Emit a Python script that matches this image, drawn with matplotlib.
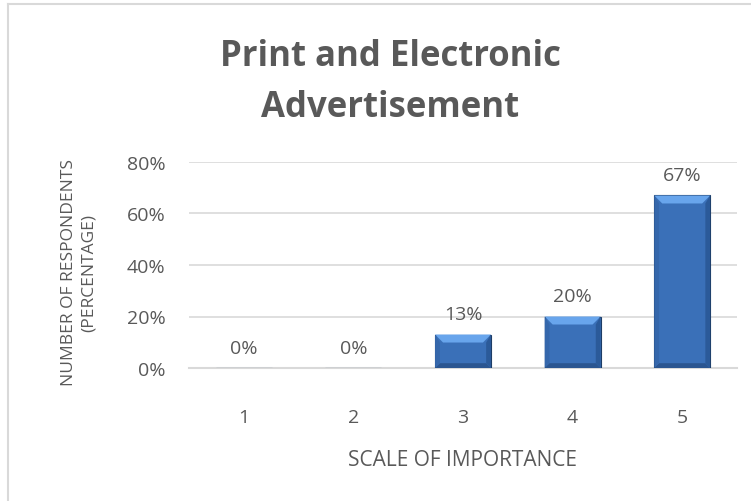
import matplotlib
matplotlib.use("Agg")
import matplotlib.pyplot as plt
from matplotlib.patches import Polygon
from matplotlib.lines import Line2D
from matplotlib.ticker import PercentFormatter

categories = ["1", "2", "3", "4", "5"]
values = [0.0, 0.0, 0.13, 0.20, 0.67]
labels = ["0%", "0%", "13%", "20%", "67%"]
yticks = [0.0, 0.2, 0.4, 0.6, 0.8]

plt.rcParams['font.family'] = ['Open Sans', 'DejaVu Sans']
GRAY = '#595959'
W, H = 751, 502

fig = plt.figure(figsize=(7.51, 5.02), dpi=100)
ax = fig.add_axes([189 / W, 1 - 369 / H, (737 - 189) / W, (369 - 163) / H])

x = list(range(len(categories)))
bars = ax.bar(x, values, width=0.51, color='#3A70B8', edgecolor='#1E3D66', linewidth=0.8, zorder=3)

ax.set_xlim(-0.5, len(categories) - 0.5)
ax.set_ylim(0, 0.8)
ax.set_yticks(yticks)
ax.yaxis.set_major_formatter(PercentFormatter(1.0, decimals=0))
ax.set_xticks(x)
ax.set_xticklabels(categories)

ax.grid(axis='y', color='#D9D9D9', linewidth=1.2, zorder=0)
ax.set_axisbelow(True)
for s in ['top', 'right', 'left']:
    ax.spines[s].set_visible(False)
ax.spines['bottom'].set_color('#D9D9D9')
ax.spines['bottom'].set_linewidth(1.5)
ax.tick_params(axis='both', length=0, labelsize=14, colors=GRAY)
ax.tick_params(axis='x', pad=29)
ax.tick_params(axis='y', pad=17)

# bevel highlight on bars
fig.canvas.draw()
px_per_unit = ax.transData.transform((0, 1))[1] - ax.transData.transform((0, 0))[1]
px_per_x = ax.transData.transform((1, 0))[0] - ax.transData.transform((0, 0))[0]
bev_y = 8 / px_per_unit
bev_x = 8 / px_per_x
for b in bars:
    h = b.get_height()
    if h <= 0:
        continue
    x0 = b.get_x(); w = b.get_width()
    ax.add_patch(Polygon([(x0, h), (x0 + w, h), (x0 + w - bev_x, h - bev_y), (x0 + bev_x, h - bev_y)],
                         closed=True, facecolor='#68A5EC', edgecolor='none', zorder=4))
    ax.add_patch(Polygon([(x0, 0), (x0 + w, 0), (x0 + w - bev_x * 0.6, bev_y * 0.6), (x0 + bev_x * 0.6, bev_y * 0.6)],
                         closed=True, facecolor='#2A5590', edgecolor='none', zorder=4))
    ax.add_patch(Polygon([(x0, h), (x0 + bev_x * 0.6, h - bev_y), (x0 + bev_x * 0.6, bev_y * 0.6), (x0, 0)],
                         closed=True, facecolor='#3567AB', edgecolor='none', zorder=4))
    ax.add_patch(Polygon([(x0 + w, h), (x0 + w - bev_x * 0.6, h - bev_y), (x0 + w - bev_x * 0.6, bev_y * 0.6), (x0 + w, 0)],
                         closed=True, facecolor='#2B5A99', edgecolor='none', zorder=4))

for b, lab in zip(bars, labels):
    ax.annotate(lab, (b.get_x() + b.get_width() / 2, b.get_height()),
                xytext=(0, 11), textcoords='offset points', ha='center', va='baseline',
                fontsize=14, color=GRAY)

ax.set_xlabel("SCALE OF IMPORTANCE", fontsize=15, color=GRAY)
ax.xaxis.set_label_coords(0.5, (369 - 461) / 206)
ax.xaxis.label.set_va('center')
ax.set_ylabel("NUMBER OF RESPONDENTS\n(PERCENTAGE)", fontsize=12.5, color=GRAY, linespacing=1.3)
ax.yaxis.set_label_coords((79 - 189) / 548, (369 - 273) / 206)
ax.yaxis.label.set_va('center')

fig.text(390 / W, 1 - 66 / H, "Print and Electronic", ha='center', va='baseline',
         fontsize=25, fontweight='bold', color=GRAY)
fig.text(390 / W, 1 - 117 / H, "Advertisement", ha='center', va='baseline',
         fontsize=25, fontweight='bold', color=GRAY)

# outer chart frame
fig.add_artist(Line2D([8 / W, 8 / W], [0, 1 - 5 / H], transform=fig.transFigure,
                      color='#D9D9D9', linewidth=1.5))
fig.add_artist(Line2D([8 / W, 1], [1 - 5 / H, 1 - 5 / H], transform=fig.transFigure,
                      color='#D9D9D9', linewidth=1.5))

fig.savefig("out.png", dpi=100)
